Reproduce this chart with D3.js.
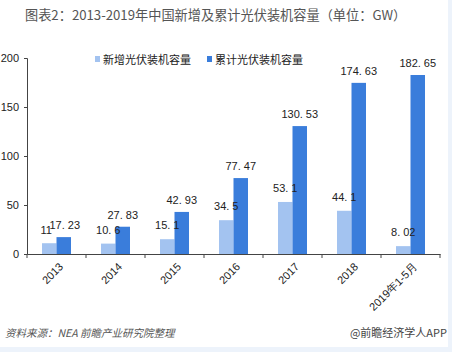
<!DOCTYPE html>
<html><head><meta charset="utf-8">
<script src="https://cdn.jsdelivr.net/npm/d3@7"></script>
<style>body{margin:0;background:#fff;}svg{display:block;font-family:"Noto Sans CJK SC","Liberation Sans",sans-serif;}</style>
</head><body><svg id="c" width="452" height="352"></svg>
<script>
const categories = ["2013","2014","2015","2016","2017","2018","2019年1-5月"];
const newAdded = [11, 10.6, 15.1, 34.5, 53.1, 44.1, 8.02];
const cumulative = [17.23, 27.83, 42.93, 77.47, 130.53, 174.63, 182.65];
const newLabels = ["11","10. 6","15. 1","34. 5","53. 1","44. 1","8. 02"];
const cumLabels = ["17. 23","27. 83","42. 93","77. 47","130. 53","174. 63","182. 65"];
const yTicks = [0, 50, 100, 150, 200];
const seriesNames = ["新增光伏装机容量","累计光伏装机容量"];
const colors = ["#a3c3f0","#3a7ddb"];

const svg = d3.select("#c");
svg.append("rect").attr("x",448).attr("y",0).attr("width",4).attr("height",352).attr("fill","#edf3fb");
svg.append("rect").attr("x",0).attr("y",347).attr("width",452).attr("height",5).attr("fill","#edf3fb");

svg.append("text").attr("x",25).attr("y",20).attr("font-size",13.2).attr("fill","#555")
  .text("图表2：2013-2019年中国新增及累计光伏装机容量（单位：GW）");

const x = d3.scaleBand().domain(categories).range([27,440]);
const y = d3.scaleLinear().domain([0,200]).range([254,58]);
const bw = 14.5;

const g = svg.append("g");
categories.forEach((c,i)=>{
  const cx = x(c)+x.bandwidth()/2;
  g.append("rect").attr("x",cx-bw).attr("width",bw).attr("y",y(newAdded[i])).attr("height",y(0)-y(newAdded[i])).attr("fill",colors[0]);
  g.append("rect").attr("x",cx).attr("width",bw).attr("y",y(cumulative[i])).attr("height",y(0)-y(cumulative[i])).attr("fill",colors[1]);
  g.append("text").attr("x",cx-bw/2-(i===0?3:0)).attr("y",y(newAdded[i])-(i===0?9:10)).attr("text-anchor","middle").attr("font-size",11).attr("fill","#222").attr("font-family","Liberation Sans, sans-serif").text(newLabels[i]);
  g.append("text").attr("x",cx+bw/2+(i===0?1:0)).attr("y",y(cumulative[i])-8).attr("text-anchor","middle").attr("font-size",11).attr("fill","#222").attr("font-family","Liberation Sans, sans-serif").text(cumLabels[i]);
});

const xAxis = svg.append("g").attr("transform","translate(0,254)")
  .call(d3.axisBottom(x).tickSize(0).tickFormat(""));
xAxis.select(".domain").attr("stroke","#444");
const bounds = d3.range(categories.length+1).map(i=>27+i*x.bandwidth());
xAxis.selectAll(".bt").data(bounds).enter().append("line").attr("x1",d=>d).attr("x2",d=>d).attr("y1",0).attr("y2",4).attr("stroke","#444");
categories.forEach(c=>{
  const cx = x(c)+x.bandwidth()/2;
  xAxis.append("text").attr("transform",`translate(${cx+2},8) rotate(-45)`).attr("text-anchor","end").attr("dy","0.7em")
    .attr("font-size",11).attr("fill","#222").text(c);
});

const yAxis = svg.append("g").attr("transform","translate(27,0)")
  .call(d3.axisLeft(y).tickValues(yTicks).tickSize(3).tickPadding(5));
yAxis.select(".domain").attr("stroke","#444");
yAxis.selectAll("line").attr("stroke","#444");
yAxis.selectAll("text").attr("font-size",11).attr("fill","#222").attr("font-family","Liberation Sans, sans-serif");

const leg = svg.append("g");
[[95,0],[207,1]].forEach(([lx,i])=>{
  leg.append("rect").attr("x",lx).attr("y",56).attr("width",5).attr("height",6).attr("fill",colors[i]);
  leg.append("text").attr("x",lx+8).attr("y",63.5).attr("font-size",11).attr("fill","#222").text(seriesNames[i]);
});

svg.append("text").attr("x",5).attr("y",337).attr("font-size",10.5).attr("fill","#555").attr("font-style","italic")
  .text("资料来源：NEA 前瞻产业研究院整理");
svg.append("text").attr("x",447).attr("y",337).attr("text-anchor","end").attr("font-size",11).attr("fill","#444")
  .text("@前瞻经济学人APP");
</script></body></html>
